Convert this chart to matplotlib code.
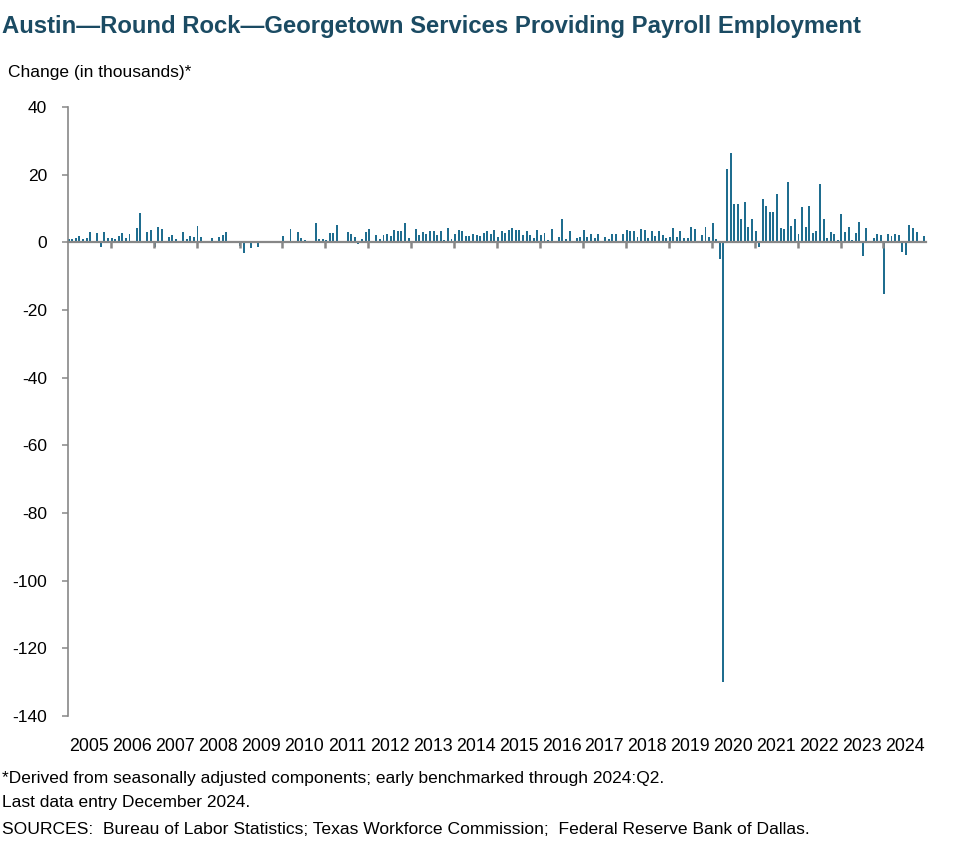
import numpy as np
import matplotlib
matplotlib.use('Agg')
import matplotlib.pyplot as plt

plt.rcParams['font.family'] = ['Liberation Sans', 'DejaVu Sans']
plt.rcParams['axes.unicode_minus'] = False

# monthly change, thousands
years = list(range(2005, 2025))
chg_2005 = [1.0, 1.1, 1.4, 2.0, 1.1, 1.4, 3.0, 0.0, 2.7, -1.3, 2.9, 1.4]
chg_2006 = [1.3, 1.1, 2.0, 2.7, 1.4, 2.4, 0.0, 4.3, 8.6, 0.0, 3.0, 3.5]
chg_2007 = [-1.5, 4.6, 3.8, 0.0, 1.7, 2.3, 1.1, 0.5, 3.0, 1.0, 2.0, 1.7]
chg_2008 = [4.7, 1.7, 0.0, 0.0, 1.4, 0.0, 1.7, 2.1, 3.0, 0.0, 0.0, 0.0]
chg_2009 = [-1.2, -3.2, 0.0, -1.6, 0.0, -1.5, 0.0, 0.0, 0.0, 0.0, 0.0, 0.0]
chg_2010 = [2.0, 0.0, 4.0, 0.0, 3.0, 1.2, 0.6, 0.0, 0.0, 5.8, 0.9, 1.1]
chg_2011 = [0.6, 2.7, 2.7, 5.0, 0.0, 0.0, 3.0, 2.6, 1.7, -0.6, 1.1, 3.0]
chg_2012 = [3.8, 0.0, 2.3, 1.1, 2.3, 2.4, 2.0, 3.7, 3.2, 3.4, 5.6, 1.4]
chg_2013 = [0.0, 3.8, 2.1, 3.0, 2.6, 3.3, 3.3, 2.1, 3.3, 0.6, 4.3, 0.9]
chg_2014 = [2.4, 3.7, 3.3, 1.8, 1.8, 2.4, 2.1, 1.8, 2.8, 3.3, 2.4, 3.5]
chg_2015 = [1.5, 3.3, 2.7, 3.5, 4.1, 3.5, 3.5, 2.1, 3.3, 2.1, 1.2, 3.5]
chg_2016 = [2.1, 2.7, 0.6, 3.8, 0.0, 1.5, 6.8, 0.9, 3.3, 0.0, 1.2, 1.6]
chg_2017 = [3.7, 1.6, 2.6, 1.3, 2.6, 0.5, 1.6, 1.0, 2.6, 2.6, 0.5, 2.6]
chg_2018 = [3.7, 3.4, 3.2, 1.6, 4.0, 3.7, 1.3, 3.4, 2.0, 3.4, 2.2, 1.3]
chg_2019 = [1.6, 4.3, 1.6, 3.2, 1.3, 1.3, 4.6, 4.0, 0.5, 2.3, 4.6, 1.6]
chg_2020 = [5.8, 1.0, -5.0, -130.0, 21.8, 26.5, 11.2, 11.2, 7.0, 11.8, 4.6, 7.0]
chg_2021 = [3.3, -1.3, 12.7, 10.6, 9.1, 9.1, 14.4, 4.3, 3.8, 17.7, 4.9, 6.8]
chg_2022 = [2.4, 10.3, 4.6, 10.6, 2.7, 3.3, 17.1, 6.8, 1.4, 3.0, 2.4, 0.7]
chg_2023 = [8.5, 3.0, 4.4, 0.7, 2.7, 5.9, -4.1, 4.1, 0.0, 1.2, 2.4, 2.1]
chg_2024 = [-15.3, 2.6, 1.8, 2.4, 2.1, -3.0, -3.8, 5.0, 4.1, 3.0, 0.0, 1.8]

values = np.array(chg_2005 + chg_2006 + chg_2007 + chg_2008 + chg_2009 +
                  chg_2010 + chg_2011 + chg_2012 + chg_2013 + chg_2014 +
                  chg_2015 + chg_2016 + chg_2017 + chg_2018 + chg_2019 +
                  chg_2020 + chg_2021 + chg_2022 + chg_2023 + chg_2024)
months = np.arange(len(values))

grey = '#878787'
fig = plt.figure(figsize=(9.77, 8.64), dpi=100)
ax = fig.add_axes([0.0694, 0.1713, 0.8788, 0.7049])

ax.bar(months + 0.25, values, width=0.55, color='#1f6d8f', linewidth=0)

ax.set_xlim(0, 240)
ax.set_ylim(-140, 40)
ax.set_yticks(range(-140, 41, 20))
ax.tick_params(axis='y', direction='out', length=4.3, width=1.1, color=grey,
               pad=10.5, labelsize=12.5)

for s in ['top', 'right']:
    ax.spines[s].set_visible(False)
ax.spines['left'].set_color(grey)
ax.spines['left'].set_linewidth(1.2)
ax.spines['bottom'].set_position(('data', 0))
ax.spines['bottom'].set_color(grey)
ax.spines['bottom'].set_linewidth(1.6)
ax.spines['bottom'].set_zorder(3)

ax.set_xticks(np.arange(12, 240, 12))
ax.set_xticklabels([])
ax.tick_params(axis='x', direction='out', length=4.5, width=1.8, color=grey)

# year labels along the bottom, centred on each year
sec = ax.secondary_xaxis(0)
sec.set_xticks(np.arange(6, 240, 12))
sec.set_xticklabels([str(y) for y in years])
sec.tick_params(length=0, pad=16, labelsize=12.8)
sec.spines['bottom'].set_visible(False)

fig.text(0.002, 1 - 26 / 864, 'Austin\u2014Round Rock\u2014Georgetown Services Providing Payroll Employment',
         fontsize=17.2, fontweight='bold', color='#1b4b63', va='center')
fig.text(8 / 977, 1 - 73 / 864, 'Change (in thousands)*', fontsize=12.5, va='center')

fig.text(0.002, 1 - 778 / 864,
         '*Derived from seasonally adjusted components; early benchmarked through 2024:Q2.',
         fontsize=12.5, va='center')
fig.text(0.002, 1 - 803 / 864, 'Last data entry December 2024.', fontsize=12.5, va='center')
fig.text(0.002, 1 - 829 / 864,
         'SOURCES:  Bureau of Labor Statistics; Texas Workforce Commission;  Federal Reserve Bank of Dallas.',
         fontsize=12.6, va='center')

fig.savefig('out.png', dpi=100)
